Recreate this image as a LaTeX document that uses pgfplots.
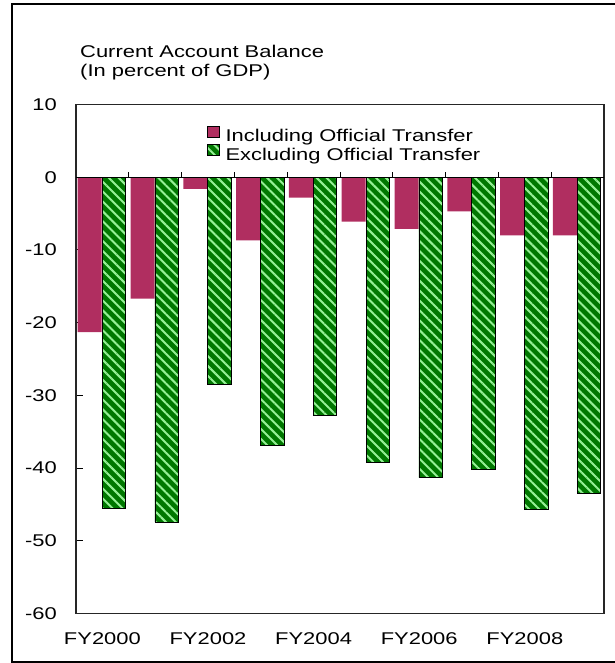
\documentclass[border=0pt]{standalone}
\usepackage{fontspec}
\setmainfont{Liberation Sans}[FakeStretch=1.29]
\usepackage{pgfplots}
\pgfplotsset{compat=1.18}
\usetikzlibrary{patterns.meta}

\definecolor{incl}{RGB}{176,46,96}
\definecolor{darkgr}{RGB}{0,120,0}
\definecolor{lightgr}{RGB}{150,240,150}

\begin{document}
\begin{tikzpicture}[x=1pt,y=1pt]
\useasboundingbox (0,0) rectangle (614,663);
% outer frame (right side is cut off in the original)
\draw[line width=1.2pt] (620,659) -- (12,659) -- (12,1) -- (620,1);

\node[anchor=base west, inner sep=0pt, font=\fontsize{17}{20}\selectfont] at (80,605.7) {Current Account Balance};
\node[anchor=base west, inner sep=0pt, font=\fontsize{17}{20}\selectfont] at (80,586) {(In percent of GDP)};

\begin{axis}[
    at={(76pt,49.5pt)}, anchor=south west,
    scale only axis,
    width=528pt, height=509pt,
    ybar,
    xmin=-0.5, xmax=9.5,
    ymin=-60, ymax=10,
    xtick={0,2,4,6,8},
    xticklabels={FY2000,FY2002,FY2004,FY2006,FY2008},
    xtick style={draw=none},
    ytick={-60,-50,-40,-30,-20,-10,0,10},
    yticklabels={-60,-50,-40,-30,-20,-10,0,10},
    ytick pos=left,
    tick align=inside,
    major tick length=7pt,
    tick style={black, line width=1pt},
    tick label style={font=\fontsize{17}{20}\selectfont},
    yticklabel style={inner sep=0pt, xshift=-19pt},
    xticklabel style={inner sep=0pt, yshift=-19pt},
    axis line style={line width=1.2pt, black!85},
    legend style={
        at={(rel axis cs:0.248,0.958)}, anchor=north west,
        draw=none, fill=none, inner sep=0pt, outer sep=0pt,
        font=\fontsize{17}{17}\selectfont,
        nodes={inner sep=0pt},
        row sep=1.5pt,
        /tikz/every odd column/.append style={column sep=6pt}
    },
    legend image code/.code={\draw[#1] (0pt,-1pt) rectangle (12pt,10pt);},
    legend cell align=left,
    clip=false,
]
\addplot[draw=none, fill=incl, bar width=0.455, bar shift=-0.24] coordinates {
    (0,-21.3) (1,-16.7) (2,-1.6) (3,-8.7) (4,-2.8)
    (5,-6.1) (6,-7.1) (7,-4.7) (8,-8.0) (9,-8.0)
};
\addplot[draw=black, line width=0.6pt, fill=darkgr, bar width=0.445, bar shift=0.215,
    postaction={pattern={Lines[angle=-45,distance=7pt,line width=2pt]}, pattern color=lightgr}] coordinates {
    (0,-45.5) (1,-47.4) (2,-28.5) (3,-36.9) (4,-32.7)
    (5,-39.2) (6,-41.3) (7,-40.2) (8,-45.7) (9,-43.5)
};
\legend{Including Official Transfer, Excluding Official Transfer}
% zero line with group separators
\draw[black, line width=1.2pt] (axis cs:-0.5,0) -- (axis cs:9.5,0);
\pgfplotsinvokeforeach{0.5,1.5,2.5,3.5,4.5,5.5,6.5,7.5,8.5}{
    \draw[black, line width=1pt] (axis cs:#1,0) -- (axis cs:#1,0.7);
}
\end{axis}
\end{tikzpicture}
\end{document}
